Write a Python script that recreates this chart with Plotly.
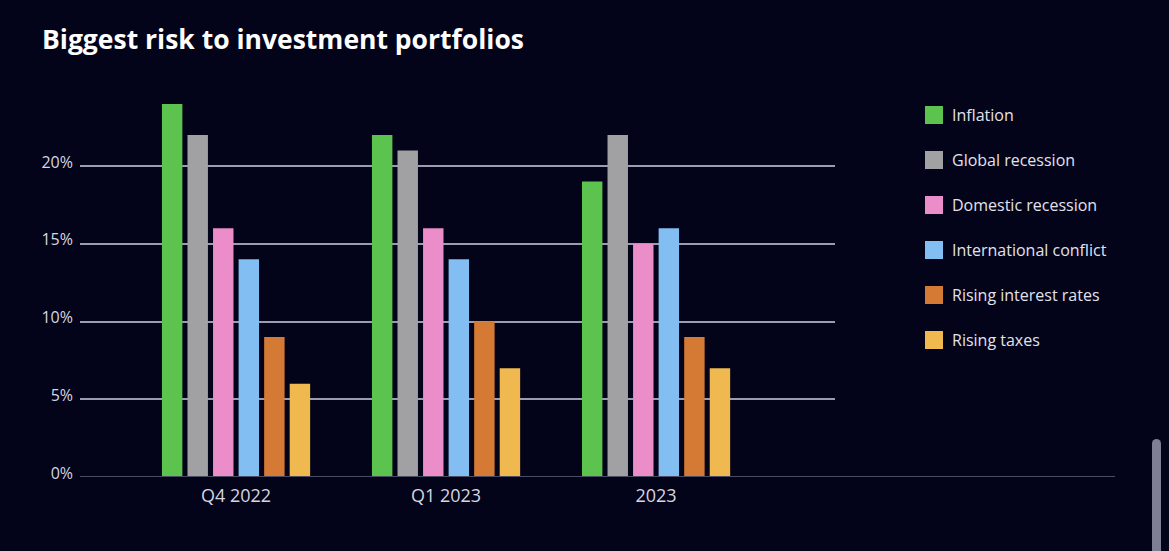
import plotly.graph_objects as go

categories = ["Q4 2022", "Q1 2023", "2023"]
series_names = ["Inflation", "Global recession", "Domestic recession",
                "International conflict", "Rising interest rates", "Rising taxes"]
inflation = [24, 22, 19]
global_recession = [22, 21, 22]
domestic_recession = [16, 16, 15]
international_conflict = [14, 14, 16]
rising_interest_rates = [9, 10, 9]
rising_taxes = [6, 7, 7]
y_ticks = [0, 5, 10, 15, 20]

series_values = [inflation, global_recession, domestic_recession,
                 international_conflict, rising_interest_rates, rising_taxes]
colors = ["#5cc34f", "#a1a1a4", "#ea8dc9", "#82bef1", "#d57a35", "#efb94f"]

W, H = 1169, 551
L, R, T, B = 80, 334, 100, 74
pw, ph = W - L - R, H - T - B

BG = "#03031a"
FONT = "'Open Sans', sans-serif"

fig = go.Figure()
for name, vals, c in zip(series_names, series_values, colors):
    fig.add_trace(go.Bar(x=categories, y=vals, name=name, marker_color=c,
                         marker_line_width=0, showlegend=False))

def px_x(px):
    return (px - L) / pw

def px_y(py):
    return (H - B - py) / ph

shapes = []
annotations = []
# extended baseline
shapes.append(dict(type="line", xref="paper", yref="y", x0=0, x1=px_x(1115), y0=0, y1=0,
                   line=dict(color="#4a4c63", width=2), layer="above"))
# manual legend
for i, (name, c) in enumerate(zip(series_names, colors)):
    cy = 115 + 45 * i
    shapes.append(dict(type="rect", xref="paper", yref="paper",
                       x0=px_x(925), x1=px_x(943), y0=px_y(cy + 9), y1=px_y(cy - 9),
                       fillcolor=c, line=dict(width=0)))
    annotations.append(dict(text=name, xref="paper", yref="paper", x=px_x(950), y=px_y(cy),
                            xanchor="left", yanchor="middle", showarrow=False,
                            font=dict(family=FONT, size=16, color="#e2e2ea")))
# scrollbar
shapes.append(dict(type="rect", xref="paper", yref="paper",
                   x0=px_x(1152), x1=px_x(1161), y0=px_y(560), y1=px_y(443),
                   fillcolor="#7e7f95", line=dict(width=0)))
shapes.append(dict(type="circle", xref="paper", yref="paper",
                   x0=px_x(1152), x1=px_x(1161), y0=px_y(448), y1=px_y(439),
                   fillcolor="#7e7f95", line=dict(width=0)))

fig.update_layout(
    width=W, height=H,
    paper_bgcolor=BG, plot_bgcolor=BG,
    margin=dict(l=L, r=R, t=T, b=B),
    barmode="group", bargap=0.27, bargroupgap=0.2,
    title=dict(text="<b>Biggest risk to investment portfolios</b>", x=42 / W, xanchor="left",
               y=1 - 40 / H, yanchor="middle",
               font=dict(family=FONT, size=26.5, color="#ffffff")),
    xaxis=dict(type="category", range=[-0.743, 2.852], showgrid=False, showline=False,
               zeroline=False, ticks="", ticklabelstandoff=6,
               tickfont=dict(family=FONT, size=18, color="#d6d6e0")),
    yaxis=dict(range=[0, 24.25], tickmode="array", tickvals=y_ticks,
               ticktext=[f"{v}%" for v in y_ticks], showgrid=True,
               gridcolor="#9b9bb2", gridwidth=1.5, zeroline=False, showline=False,
               ticks="", ticklabelstandoff=6, ticklabelshift=-4,
               tickfont=dict(family=FONT, size=16, color="#d6d6e0")),
    shapes=shapes, annotations=annotations,
    showlegend=False,
)

fig.write_html("out.html", config={"displayModeBar": False},
               post_script="document.body.style.margin='0';document.body.style.background='#03031a';")
